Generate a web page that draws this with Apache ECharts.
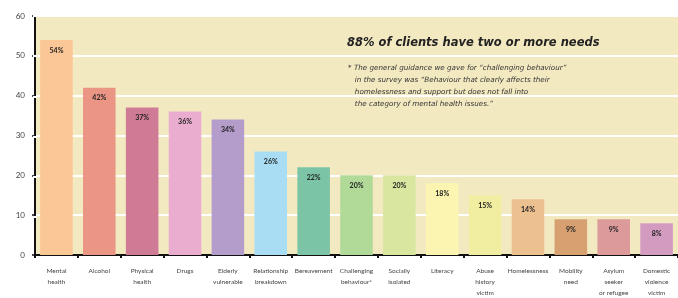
<!DOCTYPE html>
<html>
<head>
<meta charset="utf-8">
<script src="https://cdn.jsdelivr.net/npm/echarts@6/dist/echarts.min.js"></script>
<style>html,body{margin:0;padding:0;background:#fff;}#c{width:678px;height:298px;}</style>
</head>
<body>
<div id="c"></div>
<script>
const categories = ["Mental\nhealth","Alcohol","Physical\nhealth","Drugs","Elderly\nvulnerable","Relationship\nbreakdown","Bereavement","Challenging\nbehaviour*","Socially\nisolated","Literacy","Abuse\nhistory\nvictim","Homelessness","Mobility\nneed","Asylum\nseeker\nor refugee","Domestic\nviolence\nvictim"];
const values = [54, 42, 37, 36, 34, 26, 22, 20, 20, 18, 15, 14, 9, 9, 8];
const barColors = ["#fbc796","#eb9685","#d07b95","#ebadcf","#b59dcb","#a8ddf4","#7cc4a6","#b1d998","#d9e6a0","#fcf5b1","#f1eea2","#edc08f","#d6a071","#dd9a9a","#d49bc1"];
const yTicks = [0, 60, 10];
const titleText = "88% of clients have two or more needs";
const noteText = "* The general guidance we gave for “challenging behaviour”\n   in the survey was “Behaviour that clearly affects their\n   homelessness and support but does not fall into\n   the category of mental health issues.”";

const chart = echarts.init(document.getElementById('c'), null, {renderer:'canvas'});
chart.setOption({
  animation: false,
  backgroundColor: '#ffffff',
  title: [
    {text: titleText, left: 342, top: 32, textStyle: {fontFamily: 'DejaVu Sans', fontSize: 11.5, fontWeight: 'bold', fontStyle: 'italic', color: '#222'}},
    {text: noteText, left: 343, top: 57, textStyle: {fontFamily: 'DejaVu Sans', fontSize: 7.2, fontWeight: 'normal', fontStyle: 'italic', color: '#333', lineHeight: 12}}
  ],
  grid: [
    {left: 35, right: -6, top: 16, bottom: 41, show: false},
    {left: 33, width: 4, top: 16, bottom: 81.2, show: false}
  ],
  xAxis: [
    {type: 'category', gridIndex: 0, data: categories,
     axisLine: {show: true, lineStyle: {color: '#111', width: 2}},
     axisTick: {show: true, length: 3, lineStyle: {color: '#111', width: 2}},
     axisLabel: {interval: 0, fontFamily: 'Lato', fontSize: 6.5, color: '#444', lineHeight: 11, margin: 10}},
    {type: 'value', gridIndex: 1, show: false, min: 0, max: 1}
  ],
  yAxis: [
    {type: 'value', gridIndex: 0, min: yTicks[0], max: yTicks[1], interval: yTicks[2],
     axisLine: {show: true, lineStyle: {color: '#111', width: 2}},
     axisTick: {show: true, length: 3, lineStyle: {color: '#111', width: 1.5}},
     axisLabel: {fontFamily: 'Lato', fontSize: 8, color: '#444', margin: 10},
     splitLine: {show: true, lineStyle: {color: '#ffffff', width: 2}},
     splitArea: {show: true, areaStyle: {color: ['#f3e9c1', '#f3e9c1']}}},
    {type: 'value', gridIndex: 1, min: 10, max: yTicks[1], interval: yTicks[2], z: 5,
     axisLine: {show: false}, axisTick: {show: false}, axisLabel: {show: false},
     splitLine: {show: true, lineStyle: {color: '#ffffff', width: 2}}}
  ],
  series: [{
    type: 'bar', xAxisIndex: 0, yAxisIndex: 0, z: 3,
    barWidth: '76%',
    data: values.map((v, i) => ({value: v, itemStyle: {color: barColors[i]}})),
    label: {show: true, position: 'insideTop', distance: 7, formatter: '{c}%', fontFamily: 'Lato', fontSize: 7, fontWeight: 'bold', color: '#222'}
  }]
});
</script>
</body>
</html>
